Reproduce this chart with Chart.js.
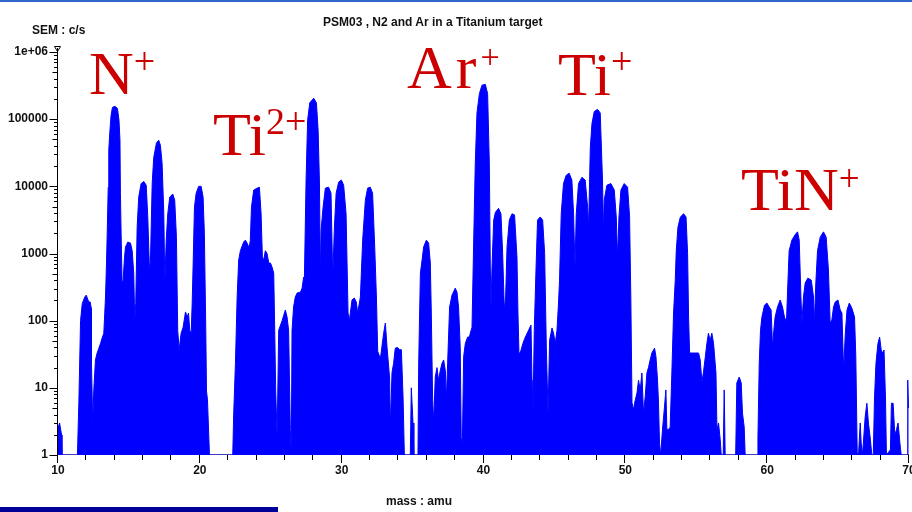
<!DOCTYPE html>
<html>
<head>
<meta charset="utf-8">
<title>PSM03 spectrum</title>
<script src="https://cdn.jsdelivr.net/npm/chart.js@4.4.0/dist/chart.umd.min.js"></script>
<style>
  html, body { margin: 0; padding: 0; background: #fff; overflow: hidden; }
  body { width: 912px; height: 512px; position: relative; }
  #wrap { position: absolute; left: 0; top: 0; width: 940px; height: 512px; }
  .topBar { position: absolute; left: 0; top: 0; width: 912px; height: 2px; background: #3366cc; }
  .bottomBar { position: absolute; left: 0; top: 507px; width: 278px; height: 5px; background: #000099; }
  .lbl { position: absolute; font: bold 12px "Liberation Sans", Arial, sans-serif; line-height: 12px; color: #111; white-space: nowrap; }
  .ion { position: absolute; font-family: "Liberation Serif", "Times New Roman", serif; font-size: 62px; line-height: 62px; color: #cc0000; white-space: nowrap; }
  .ion span { font-size: 38px; line-height: 0; vertical-align: 20px; }
</style>
</head>
<body>
<div id="wrap"><canvas id="spectrum" width="940" height="512"></canvas></div>
<div class="topBar"></div>
<div class="bottomBar"></div>
<div class="lbl" style="left:323px; top:16px;">PSM03 , N2 and Ar in a Titanium target</div>
<div class="lbl" style="left:32px; top:24px;">SEM : c/s</div>
<div class="lbl" style="left:386px; top:495px;">mass : amu</div>
<div class="ion" style="left:89px; top:42px;">N<span>+</span></div>
<div class="ion" style="left:213px; top:103px;">Ti<span style="vertical-align:21px">2+</span></div>
<div class="ion" style="left:407px; top:36px; letter-spacing:4px;">Ar<span style="font-size:34px; vertical-align:20px">+</span></div>
<div class="ion" style="left:558px; top:43px;">Ti<span style="vertical-align:21px">+</span></div>
<div class="ion" style="left:741px; top:158px;">TiN<span style="font-size:37px; vertical-align:19px">+</span></div>
<script>
// mass (amu) and SEM counts (c/s)
const mass = [
  10.00, 10.11, 10.25, 10.28, 11.37, 11.47, 11.59, 11.71, 11.89, 11.99, 12.17, 12.27, 12.34, 12.36, 12.45,
  12.52, 12.64, 12.76, 12.88, 13.00, 13.11, 13.23, 13.35, 13.42, 13.47, 13.54, 13.58, 13.65, 13.74, 13.84,
  14.02, 14.19, 14.30, 14.37, 14.40, 14.45, 14.52, 14.59, 14.69, 14.76, 14.92, 15.11, 15.23, 15.34, 15.41,
  15.48, 15.58, 15.69, 15.86, 16.05, 16.22, 16.33, 16.45, 16.52, 16.64, 16.75, 16.94, 17.10, 17.22, 17.34,
  17.46, 17.53, 17.63, 17.74, 17.88, 18.09, 18.23, 18.35, 18.44, 18.54, 18.68, 18.82, 18.99, 19.11, 19.20,
  19.29, 19.39, 19.46, 19.53, 19.62, 19.74, 19.92, 20.09, 20.23, 20.32, 20.42, 20.47, 20.54, 20.64, 20.68,
  22.32, 22.39, 22.51, 22.63, 22.74, 22.86, 23.09, 23.21, 23.33, 23.45, 23.49, 23.56, 23.64, 23.80, 24.04,
  24.20, 24.32, 24.41, 24.50, 24.62, 24.74, 24.86, 24.98, 25.09, 25.21, 25.28, 25.35, 25.45, 25.56, 25.80,
  26.03, 26.15, 26.26, 26.38, 26.45, 26.50, 26.61, 26.73, 26.86, 27.09, 27.21, 27.32, 27.37, 27.49, 27.60,
  27.75, 28.03, 28.22, 28.34, 28.43, 28.50, 28.55, 28.69, 28.85, 29.08, 29.25, 29.37, 29.49, 29.61, 29.79,
  29.98, 30.14, 30.31, 30.45, 30.54, 30.61, 30.73, 30.89, 31.03, 31.13, 31.32, 31.48, 31.67, 31.83, 32.02,
  32.18, 32.33, 32.45, 32.54, 32.73, 32.96, 33.08, 33.20, 33.38, 33.43, 33.55, 33.66, 33.78, 33.94, 34.09,
  34.21, 34.33, 34.42, 34.84, 34.91, 35.03, 35.09, 35.38, 35.43, 35.55, 35.67, 35.78, 35.97, 36.13, 36.25,
  36.32, 36.41, 36.48, 36.60, 36.72, 36.83, 36.95, 37.07, 37.19, 37.31, 37.38, 37.47, 37.61, 37.78, 38.01,
  38.13, 38.24, 38.36, 38.43, 38.51, 38.60, 38.72, 38.88, 39.00, 39.07, 39.19, 39.30, 39.42, 39.54, 39.71,
  39.89, 40.13, 40.29, 40.41, 40.48, 40.53, 40.60, 40.72, 40.84, 41.06, 41.23, 41.35, 41.47, 41.56, 41.66,
  41.82, 42.01, 42.19, 42.36, 42.43, 42.50, 42.59, 42.78, 42.95, 43.18, 43.35, 43.42, 43.49, 43.58, 43.70,
  43.81, 44.00, 44.17, 44.31, 44.43, 44.55, 44.66, 44.83, 44.94, 45.06, 45.18, 45.29, 45.36, 45.48, 45.64,
  45.83, 46.04, 46.23, 46.35, 46.45, 46.54, 46.70, 46.94, 47.17, 47.34, 47.41, 47.53, 47.65, 47.81, 48.04,
  48.23, 48.39, 48.46, 48.51, 48.70, 48.98, 49.22, 49.36, 49.45, 49.55, 49.69, 49.92, 50.16, 50.30, 50.39,
  50.47, 50.58, 50.65, 50.82, 50.93, 51.05, 51.17, 51.28, 51.40, 51.52, 51.63, 51.75, 51.87, 52.06, 52.16,
  52.27, 52.34, 52.41, 52.49, 52.62, 52.76, 52.86, 52.93, 53.04, 53.16, 53.28, 53.40, 53.52, 53.59, 53.71,
  53.88, 54.11, 54.28, 54.39, 54.46, 54.53, 54.76, 54.93, 55.16, 55.28, 55.40, 55.52, 55.64, 55.75, 55.86,
  55.98, 56.10, 56.22, 56.39, 56.46, 56.57, 56.69, 56.76, 56.90, 56.97, 57.04, 57.78, 57.86, 58.03, 58.17,
  58.26, 58.38, 58.45, 59.32, 59.35, 59.44, 59.53, 59.63, 59.81, 59.98, 60.14, 60.28, 60.38, 60.47, 60.56,
  60.73, 60.92, 61.08, 61.22, 61.36, 61.46, 61.55, 61.74, 61.97, 62.14, 62.26, 62.38, 62.45, 62.56, 62.68,
  62.87, 63.11, 63.27, 63.33, 63.43, 63.55, 63.74, 63.97, 64.16, 64.32, 64.44, 64.56, 64.68, 64.80, 64.99,
  65.15, 65.27, 65.39, 65.51, 65.63, 65.79, 65.97, 66.16, 66.25, 66.35, 66.44, 66.56, 66.63, 66.72, 66.91,
  67.03, 67.14, 67.26, 67.38, 67.48, 67.57, 67.67, 67.81, 67.93, 68.04, 68.13, 68.24, 68.34, 68.41, 68.69,
  68.76, 68.88, 69.00, 69.12, 69.23, 69.36, 69.45, 69.86, 69.91, 69.97
];
const counts = [
  2.5, 3, 2, 1, 1, 6, 100, 180, 225, 240, 190, 190, 155, 23, 3,
  9, 26, 33, 39, 46, 55, 65, 225, 720, 2000, 9700, 34600, 62000, 113000, 150000,
  155000, 145000, 96600, 48700, 8000, 2000, 360, 400, 880, 1250, 1480, 1430, 1100, 510, 100,
  180, 2470, 6900, 11000, 11800, 10400, 3500, 570, 800, 11000, 27000, 44000, 48700, 41000, 22000,
  3900, 360, 1580, 3900, 6900, 7700, 6200, 1750, 72, 37, 65, 80, 135, 113, 130,
  72, 65, 183, 720, 4900, 7900, 10000, 10000, 6900, 2000, 72, 9, 6.6, 1.7, 1,
  1, 4.2, 23, 225, 800, 1100, 1480, 1580, 1430, 1250, 1250, 1580, 4900, 8800, 9400,
  9700, 3900, 880, 800, 1100, 1000, 720, 720, 630, 510, 72, 9, 1.85, 72, 100,
  144, 113, 72, 2.4, 1, 72, 160, 225, 258, 266, 305, 445, 400, 12400, 96600,
  175000, 205000, 175000, 68600, 12400, 445, 2230, 4900, 9400, 9700, 7900, 445, 2470, 7900, 11600,
  12400, 10400, 3900, 130, 100, 130, 203, 217, 190, 130, 225, 1580, 6200, 9400, 9700,
  7900, 1250, 225, 35, 27, 65, 92, 40, 14, 2.6, 17, 23, 39, 40, 37,
  37, 7, 1, 1, 10, 3, 1, 1, 23, 510, 800, 1250, 1580, 1430, 720,
  130, 7.3, 3, 14.5, 20, 13, 18, 23, 26, 18, 6.6, 23, 160, 240, 305,
  266, 160, 40, 1.8, 1.5, 29, 46, 57, 57, 65, 80, 1250, 22000, 124000, 240000,
  320000, 330000, 240000, 22000, 630, 160, 630, 3140, 4100, 4700, 3900, 1000, 144, 225, 1250,
  3140, 3900, 3750, 880, 130, 33, 33, 46, 57, 72, 86, 13, 4.2, 72, 566,
  3140, 3500, 3140, 1000, 40, 4.2, 51, 78, 65, 46, 72, 183, 400, 3900, 11000,
  14600, 15700, 12400, 3900, 630, 3900, 11000, 13600, 12400, 4900, 2470, 38000, 87000, 130000, 140000,
  124000, 12400, 2000, 6200, 10400, 11000, 8800, 3500, 880, 3500, 8800, 11000, 9700, 3500, 203,
  6, 4.7, 5.9, 8.4, 13, 9.3, 16.6, 4.2, 7.3, 16.6, 20, 26, 33, 39, 29,
  13, 5.9, 1.5, 1, 2.4, 5.2, 9.3, 2.4, 2.4, 2.6, 16.6, 130, 400, 1100, 2470,
  3500, 3900, 3500, 1000, 113, 33, 33, 33, 33, 26, 12, 18, 29, 46, 65,
  51, 65, 46, 16.6, 2.4, 3, 1.7, 1, 1, 9.3, 1, 1, 11.8, 14.5, 11.8,
  4.2, 2.6, 1, 1, 1.85, 23, 72, 113, 170, 183, 160, 144, 40, 72, 113,
  160, 203, 160, 113, 95, 363, 1100, 1580, 1900, 2100, 1580, 225, 92, 225, 363,
  430, 402, 225, 92, 363, 1100, 1750, 2100, 1750, 566, 92, 102, 160, 190, 203,
  144, 130, 18.4, 65, 144, 183, 154, 113, 29, 1.07, 1, 3, 1.5, 1, 3.7,
  5.9, 3, 1.85, 1, 1, 7.3, 23, 46, 57, 36.6, 33, 36.6, 7.3, 1, 1.2,
  5.9, 5.9, 2, 2.4, 3, 1.5, 1, 1, 13, 5
];

const xTickValues = [10, 20, 30, 40, 50, 60, 70];
const xTickLabels = ["10", "20", "30", "40", "50", "60", "70"];
const yTickValues = [1, 10, 100, 1000, 10000, 100000, 1000000];
const yTickLabels = ["1", "10", "100", "1000", "10000", "100000", "1e+06"];

const tickFont = {family: "'Liberation Sans', Arial, sans-serif", size: 12, weight: "bold"};

// axis lines and the small tick marks (major / minor), drawn off the chart scales
const axesPlugin = {
    id: "axesPlugin",
    beforeDatasetsDraw(chart) {
        const {ctx, chartArea} = chart;
        ctx.save();
        ctx.strokeStyle = "#808080";
        ctx.lineWidth = 1;
        ctx.beginPath();
        ctx.moveTo(chartArea.left, chartArea.bottom - 0.5);
        ctx.lineTo(chartArea.right, chartArea.bottom - 0.5);
        ctx.stroke();
        ctx.restore();
    },
    afterDatasetsDraw(chart) {
        const {ctx, chartArea, scales} = chart;
        const xs = scales.x, ys = scales.y;
        const ax = Math.round(chartArea.left) - 0.5;
        const bottom = Math.round(chartArea.bottom);
        ctx.save();
        ctx.strokeStyle = "#000";
        ctx.lineWidth = 1;
        ctx.beginPath();
        ctx.moveTo(ax, chartArea.top - 4);
        ctx.lineTo(ax, bottom + 0.5);
        yTickValues.forEach((v, i) => {
            const py = Math.round(ys.getPixelForValue(v)) + 0.5;
            ctx.moveTo(ax - 8, py);
            ctx.lineTo(ax, py);
            if (i === yTickValues.length - 1) return;
            for (let k = 2; k < 10; k++) {
                const p = Math.round(ys.getPixelForValue(v * k)) + 0.5;
                const len = k === 5 ? 5 : 3.5;
                ctx.moveTo(ax - len, p);
                ctx.lineTo(ax, p);
            }
        });
        for (let m = 10; m <= 70; m += 2) {
            const px = Math.round(xs.getPixelForValue(m)) - 0.5;
            const len = m % 10 === 0 ? 8 : 5;
            ctx.moveTo(px, bottom);
            ctx.lineTo(px, bottom + len);
        }
        ctx.stroke();
        // little marker at the top of the y axis
        const t = chartArea.top;
        ctx.beginPath();
        ctx.moveTo(ax - 3, t - 5.5);
        ctx.lineTo(ax + 3, t - 5.5);
        ctx.lineTo(ax, t - 0.5);
        ctx.closePath();
        ctx.stroke();
        ctx.restore();
    }
};

const points = mass.map((m, i) => ({x: m, y: counts[i]}));

new Chart(document.getElementById("spectrum").getContext("2d"), {
    type: "line",
    data: {
        datasets: [{
            label: "SEM",
            data: points,
            borderColor: "#0000ff",
            backgroundColor: "#0000ff",
            borderWidth: 1,
            fill: "start",
            pointRadius: 0,
            tension: 0
        }]
    },
    options: {
        responsive: false,
        animation: false,
        events: [],
        layout: {padding: {top: 52, right: 31, bottom: 0, left: 0}},
        plugins: {
            legend: {display: false},
            tooltip: {enabled: false},
            title: {display: false}
        },
        scales: {
            x: {
                type: "linear",
                min: 10,
                max: 70,
                grid: {display: false, drawTicks: false},
                border: {display: false},
                afterBuildTicks: s => { s.ticks = xTickValues.map(v => ({value: v})); },
                afterFit: s => { s.height = 57; },
                ticks: {
                    padding: 8,
                    color: "#111",
                    font: tickFont,
                    maxRotation: 0,
                    autoSkip: false,
                    callback: (value, index) => xTickLabels[index]
                }
            },
            y: {
                type: "logarithmic",
                min: 1,
                max: 1000000,
                grid: {display: false, drawTicks: false},
                border: {display: false},
                afterBuildTicks: s => { s.ticks = yTickValues.map(v => ({value: v})); },
                afterFit: s => { s.width = 58; },
                ticks: {
                    padding: 10,
                    color: "#111",
                    font: {family: "'Liberation Sans', Arial, sans-serif", size: 12, weight: "bold"},
                    autoSkip: false,
                    callback: (value, index) => yTickLabels[index]
                }
            }
        }
    },
    plugins: [axesPlugin]
});
</script>
</body>
</html>
